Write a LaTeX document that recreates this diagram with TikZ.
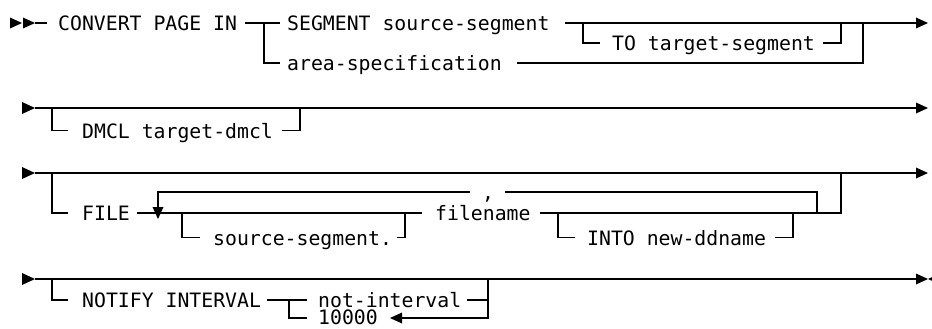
\documentclass[tikz,border=0pt]{standalone}
\usepackage{fontspec}
\newfontfamily\railfont{DejaVu Sans Mono}
\begin{document}
\begin{tikzpicture}[x=1pt,y=-1pt,
  rail/.style={line width=1.6pt},
  lbl/.style={anchor=base west, inner sep=0pt, font=\railfont\fontsize{19.8}{24}\selectfont},
  rarrow/.pic={\fill (-12,-5.5) -- (0,0) -- (-12,5.5) -- cycle;},
  bigrarrow/.pic={\fill (-13,-6) -- (0,0) -- (-13,6) -- cycle;},
  larrow/.pic={\fill (12,-5.5) -- (0,0) -- (12,5.5) -- cycle;},
  darrow/.pic={\fill (-5.5,-6) -- (5.5,-6) -- (0,6) -- cycle;}]
\useasboundingbox (0,0) rectangle (932,329);
\clip (0,0) rectangle (932,329);

% ---- row 1: CONVERT PAGE IN ----
\pic (s1) at (22,23) {rarrow};
\pic (s2) at (35,23) {rarrow};
\coordinate (r1a) at (35,23);
\coordinate (r1b) at (47,23);
\draw[rail] (r1a) -- (r1b);
\node[lbl] (convert) at (58,30.5) {CONVERT PAGE IN};
\coordinate (r1c) at (245,23);
\coordinate (r1j) at (264,23);
\coordinate (r1d) at (280,23);
\coordinate (r1f) at (280,63);
\draw[rail] (r1c) -- (r1d);
\draw[rail] (r1j) |- (r1f);
\node[lbl] (segment) at (287,30.5) {SEGMENT source-segment};
\node[lbl] (area) at (287,70.5) {area-specification};
\coordinate (r1e) at (565,23);
\coordinate (r1end) at (917,23);
\draw[rail] (r1e) -- (r1end);
\pic (e1) at (928,23) {rarrow};
\coordinate (r1k) at (583,23);
\coordinate (r1g) at (600,43);
\draw[rail] (r1k) |- (r1g);
\node[lbl] (to) at (612,50.5) {TO target-segment};
\coordinate (r1h) at (823,43);
\coordinate (r1m) at (841,23);
\draw[rail] (r1h) -| (r1m);
\coordinate (r1i) at (517,63);
\coordinate (r1n) at (863,23);
\draw[rail] (r1i) -| (r1n);

% ---- row 2: DMCL ----
\pic (s3) at (35,108) {bigrarrow};
\coordinate (r2a) at (35,108);
\coordinate (r2end) at (917,108);
\draw[rail] (r2a) -- (r2end);
\pic (e2) at (928,108) {rarrow};
\coordinate (r2j) at (52,108);
\coordinate (r2b) at (68,130.5);
\draw[rail] (r2j) |- (r2b);
\node[lbl] (dmcl) at (82,138) {DMCL target-dmcl};
\coordinate (r2c) at (282,130.5);
\coordinate (r2k) at (300,108);
\draw[rail] (r2c) -| (r2k);

% ---- row 3: FILE ----
\pic (s4) at (35,173) {bigrarrow};
\coordinate (r3a) at (35,173);
\coordinate (r3end) at (917,173);
\draw[rail] (r3a) -- (r3end);
\pic (e3) at (928,173) {rarrow};
\coordinate (r3j) at (52,173);
\coordinate (r3b) at (68,213);
\draw[rail] (r3j) |- (r3b);
\node[lbl] (file) at (82,220.5) {FILE};
\coordinate (r3c) at (137,213);
\coordinate (r3d) at (422,213);
\draw[rail] (r3c) -- (r3d);
% repeat loop with separator
\coordinate (r3l) at (158,207);
\coordinate (r3la) at (470,192);
\draw[rail] (r3l) |- (r3la);
\node[lbl] (comma) at (482,199.5) {,};
\coordinate (r3lb) at (505,192);
\coordinate (r3lc) at (817,213);
\draw[rail] (r3lb) -| (r3lc);
\pic (rep) at (158,213) {darrow};
% optional source-segment prefix
\coordinate (r3k) at (182,213);
\coordinate (r3e) at (200,237.5);
\draw[rail] (r3k) |- (r3e);
\node[lbl] (srcseg) at (213,245) {source-segment.};
\coordinate (r3f) at (397,237.5);
\coordinate (r3m) at (405,213);
\draw[rail] (r3f) -| (r3m);
\node[lbl] (filename) at (435,220.5) {filename};
\coordinate (r3g) at (540,213);
\coordinate (r3n) at (841,173);
\draw[rail] (r3g) -| (r3n);
% optional INTO clause
\coordinate (r3p) at (558,213);
\coordinate (r3h) at (575,237.5);
\draw[rail] (r3p) |- (r3h);
\node[lbl] (into) at (587,245) {INTO new-ddname};
\coordinate (r3i) at (775,237.5);
\coordinate (r3q) at (793,213);
\draw[rail] (r3i) -| (r3q);

% ---- row 4: NOTIFY INTERVAL ----
\pic (s5) at (35,279) {bigrarrow};
\coordinate (r4a) at (35,279);
\coordinate (r4end) at (917,279);
\draw[rail] (r4a) -- (r4end);
\pic (e4) at (928,279) {rarrow};
\pic (e5) at (928,279) {larrow};
\coordinate (r4j) at (52,279);
\coordinate (r4b) at (68,300);
\draw[rail] (r4j) |- (r4b);
\node[lbl] (notify) at (82,307.5) {NOTIFY INTERVAL};
\coordinate (r4c) at (267,300);
\coordinate (r4d) at (307,300);
\draw[rail] (r4c) -- (r4d);
\coordinate (r4k) at (289,300);
\coordinate (r4e) at (307,318);
\draw[rail] (r4k) |- (r4e);
\node[lbl] (notint) at (318,307.5) {not-interval};
\node[lbl] (deflt) at (318,324) {10000};
\coordinate (r4f) at (467,300);
\coordinate (r4g) at (488,300);
\draw[rail] (r4f) -- (r4g);
\coordinate (r4h) at (402,318);
\coordinate (r4m) at (488,279);
\draw[rail] (r4h) -| (r4m);
\pic (dfl) at (390,318) {larrow};
\end{tikzpicture}
\end{document}
